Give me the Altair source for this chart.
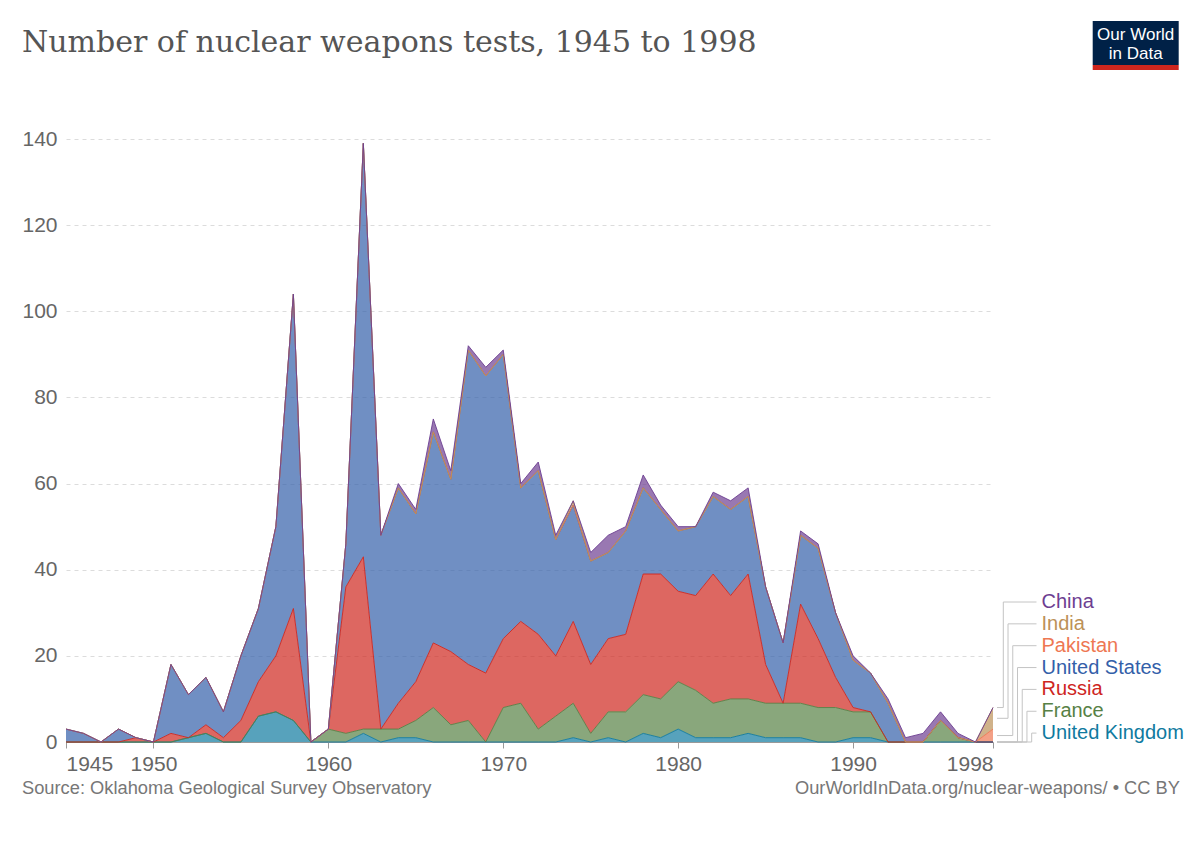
import altair as alt
import pandas as pd

# ---------------- data ----------------
years = list(range(1945, 1999))

uk = [0, 0, 0, 0, 0, 0, 0, 1, 2, 0,
      0, 6, 7, 5, 0, 0, 0, 2, 0, 1,
      1, 0, 0, 0, 0, 0, 0, 0, 0, 1,
      0, 1, 0, 2, 1, 3, 1, 1, 1, 2,
      1, 1, 1, 0, 0, 1, 1, 0, 0, 0,
      0, 0, 0, 0]
france = [0, 0, 0, 0, 0, 0, 0, 0, 0, 0,
          0, 0, 0, 0, 0, 3, 2, 1, 3, 2,
          4, 8, 4, 5, 0, 8, 9, 3, 6, 8,
          2, 6, 7, 9, 9, 11, 11, 8, 9, 8,
          8, 8, 8, 8, 8, 6, 6, 0, 0, 0,
          5, 1, 0, 0]
russia = [0, 0, 0, 0, 1, 0, 2, 0, 2, 1,
          5, 8, 13, 26, 0, 0, 34, 40, 0, 6,
          9, 15, 17, 13, 16, 16, 19, 22, 14, 19,
          16, 17, 18, 28, 29, 21, 22, 30, 24, 29,
          9, 0, 23, 16, 7, 1, 0, 0, 0, 0,
          0, 0, 0, 0]
usa = [3, 2, 0, 3, 0, 0, 16, 10, 11, 6,
       15, 17, 30, 73, 0, 0, 10, 96, 45, 50,
       39, 49, 40, 73, 69, 66, 31, 38, 27, 27,
       24, 20, 24, 20, 15, 14, 16, 18, 20, 18,
       18, 14, 16, 21, 15, 11, 9, 9, 0, 0,
       0, 0, 0, 0]
pakistan = [0] * 53 + [3]
india = [0] * 29 + [1] + [0] * 23 + [5]
china = [0, 0, 0, 0, 0, 0, 0, 0, 0, 0,
         0, 0, 0, 0, 0, 0, 0, 0, 0, 1,
         1, 3, 2, 1, 2, 1, 1, 2, 1, 0,
         2, 4, 1, 3, 1, 1, 0, 1, 2, 2,
         0, 0, 1, 1, 0, 1, 0, 1, 1, 2,
         2, 1, 0, 0]

countries = ["United Kingdom", "France", "Russia", "United States",
             "Pakistan", "India", "China"]          # bottom -> top
series = [uk, france, russia, usa, pakistan, india, china]
colors = ["#0F7AA0", "#578145", "#CE261E", "#3360A9",
          "#EE7752", "#BC9158", "#6D3E91"]

x_ticks = [1945, 1950, 1960, 1970, 1980, 1990, 1998]
y_ticks = [0, 20, 40, 60, 80, 100, 120, 140]

title_text = "Number of nuclear weapons tests, 1945 to 1998"
source_text = "Source: Oklahoma Geological Survey Observatory"
url_text = "OurWorldInData.org/nuclear-weapons/ \u2022 CC BY"

# ---------------- layout ----------------
W, H = 927, 603
X0, X1 = 1945, 1998
Y_MAX = 140
FONT = "Liberation Sans"

rows = []
for rank, (name, vals) in enumerate(zip(countries, series)):
    for yr, v in zip(years, vals):
        rows.append({"year": yr, "country": name, "value": v, "rank": rank})
df = pd.DataFrame(rows)

xscale = alt.Scale(domain=[X0, X1], nice=False, zero=False)
yscale = alt.Scale(domain=[0, Y_MAX], nice=False)
cscale = alt.Scale(domain=countries, range=colors)


def px_to_year(px):
    return X0 + px * (X1 - X0) / W


def px_to_val(py):
    return (H - py) / H * Y_MAX


# connector lines / labels for the right-hand legend
cum = 0
mids = {}
for name, vals in zip(countries, series):
    last = vals[-1]
    mids[name] = cum + last / 2
    cum += last

top_down = list(reversed(countries))
conn_rows = []
for i, name in enumerate(top_down):
    conn_rows.append({
        "name": name,
        "mid": mids[name],
        "lab": px_to_val(463 + i * 21.85),
        "x0": px_to_year(931),
        "xv": px_to_year(937.3 + i * 4.73),
        "x1": px_to_year(970.5),
    })
conn = pd.DataFrame(conn_rows)

x_axis = alt.Axis(values=x_ticks, format="d", labelFlush=True,
                  labelOverlap=False, labelFontSize=21,
                  labelFont=FONT, labelColor="#666",
                  tickColor="#999", tickSize=6, domainColor="#999",
                  labelPadding=5, grid=False)
y_axis = alt.Axis(values=y_ticks, labelFontSize=21, labelFont=FONT,
                  labelColor="#666", domain=False, ticks=False,
                  labelPadding=9, grid=True, gridColor="#dcdcdc",
                  gridDash=[4, 4])

area = alt.Chart(df).mark_area(
    interpolate="linear", fillOpacity=0.7,
    line={"strokeWidth": 1, "opacity": 0.9}
).encode(
    x=alt.X("year:Q", scale=xscale, title=None, axis=x_axis),
    y=alt.Y("value:Q", stack="zero", scale=yscale, title=None, axis=y_axis),
    color=alt.Color("country:N", scale=cscale, legend=None),
    order=alt.Order("rank:Q", sort="ascending"),
)

rule_style = dict(color="#c4c4c4", strokeWidth=1)
vert = alt.Chart(conn).mark_rule(**rule_style).encode(
    x=alt.X("xv:Q", scale=xscale, title=None),
    y=alt.Y("mid:Q", scale=yscale, title=None),
    y2="lab:Q",
)
bottom = alt.Chart(conn).mark_rule(**rule_style).encode(
    x=alt.X("x0:Q", scale=xscale, title=None), x2="xv:Q",
    y=alt.Y("mid:Q", scale=yscale, title=None),
)
top = alt.Chart(conn).mark_rule(**rule_style).encode(
    x=alt.X("xv:Q", scale=xscale, title=None), x2="x1:Q",
    y=alt.Y("lab:Q", scale=yscale, title=None),
)
labels = alt.Chart(conn).mark_text(
    align="left", baseline="middle", fontSize=20, font=FONT
).encode(
    x=alt.value(975.5),
    y=alt.Y("lab:Q", scale=yscale, title=None),
    text="name:N",
    color=alt.Color("name:N", scale=cscale, legend=None),
)


def text_layer(txt, x, y, **kw):
    return alt.Chart(pd.DataFrame({"t": [txt]})).mark_text(**kw).encode(
        text="t:N", x=alt.value(x), y=alt.value(y))


title = text_layer(title_text, -44, -87, align="left", baseline="alphabetic",
                   font="DejaVu Serif", fontSize=30, color="#555555")
source = text_layer(source_text, -44, 655, align="left", baseline="alphabetic",
                    font=FONT, fontSize=18.3, color="#777777")
url = text_layer(url_text, 1114, 655, align="right", baseline="alphabetic",
                 font=FONT, fontSize=18.3, color="#777777")

logo_box = alt.Chart(pd.DataFrame({"a": [0]})).mark_rect(color="#002147").encode(
    x=alt.value(1026.7), x2=alt.value(1112.7), y=alt.value(-118), y2=alt.value(-74))
logo_bar = alt.Chart(pd.DataFrame({"a": [0]})).mark_rect(color="#CE261E").encode(
    x=alt.value(1026.7), x2=alt.value(1112.7), y=alt.value(-74), y2=alt.value(-69))
logo_t1 = text_layer("Our World", 1069.7, -99, align="center",
                     baseline="alphabetic", font=FONT, fontSize=17,
                     color="white")
logo_t2 = text_layer("in Data", 1069.7, -80, align="center",
                     baseline="alphabetic", font=FONT, fontSize=17,
                     color="white")

chart = alt.layer(
    area, bottom, vert, top, labels, title, source, url,
    logo_box, logo_bar, logo_t1, logo_t2
).properties(
    width=W, height=H,
    padding={"left": 58, "top": 131, "right": 199, "bottom": 97},
    autosize=alt.AutoSizeParams(type="none"),
    background="white",
).configure_view(strokeWidth=0)

chart.save("out.html", embed_options={"renderer": "svg", "actions": False})
